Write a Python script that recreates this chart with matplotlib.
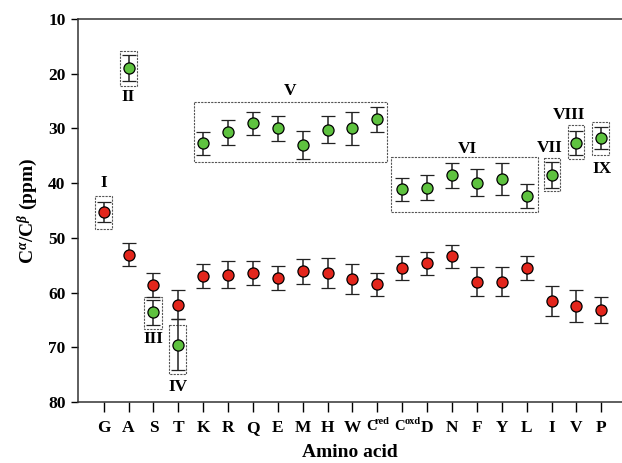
import matplotlib
matplotlib.use("Agg")
import matplotlib.pyplot as plt
from matplotlib.patches import Rectangle
from matplotlib.transforms import ScaledTranslation

plt.rcParams['font.family'] = ['Liberation Serif', 'DejaVu Serif']
plt.rcParams['font.weight'] = 'bold'
plt.rcParams['mathtext.fontset'] = 'custom'
plt.rcParams['mathtext.rm'] = 'Liberation Serif:bold'
plt.rcParams['mathtext.bf'] = 'Liberation Serif:bold'
plt.rcParams['mathtext.it'] = 'Liberation Serif:italic'

residues = ['G', 'A', 'S', 'T', 'K', 'R', 'Q', 'E', 'M', 'H', 'W',
            'C', 'C', 'D', 'N', 'F', 'Y', 'L', 'I', 'V', 'P']
# superscripts of the two cysteine labels
cys_pos = [11, 12]
cys_sup = ['red', 'oxd']

# C-alpha shifts (red) and errors
ca = [45.3, 53.1, 58.6, 62.2, 56.9, 56.7, 56.5, 57.3, 56.1, 56.4, 57.5,
      58.5, 55.5, 54.6, 53.4, 58.0, 58.0, 55.5, 61.5, 62.4, 63.2]
ca_err = [1.8, 2.1, 2.2, 2.6, 2.2, 2.5, 2.2, 2.2, 2.3, 2.7, 2.7,
          2.05, 2.25, 2.1, 2.05, 2.7, 2.65, 2.25, 2.75, 2.9, 2.45]

# C-beta shifts (green), G has none
cb_pos = [1, 2, 3, 4, 5, 6, 7, 8, 9, 10, 11, 12, 13, 14, 15, 16, 17, 18, 19, 20]
cb = [19.0, 63.6, 69.5, 32.7, 30.7, 29.1, 30.0, 33.0, 30.2, 30.0, 28.3,
      41.1, 40.8, 38.6, 39.9, 39.3, 42.3, 38.5, 32.7, 31.8]
cb_err = [2.4, 2.3, 4.7, 2.1, 2.3, 2.1, 2.3, 2.5, 2.4, 3.0, 2.3,
          2.1, 2.2, 2.2, 2.5, 2.9, 2.2, 2.3, 2.2, 2.0]

# group boxes: (x0, x1, y0, y1) and labels
boxes = [(-0.35, 0.33, 42.3, 48.3), (0.64, 1.34, 15.8, 22.2), (1.64, 2.33, 60.8, 66.7),
         (2.64, 3.32, 65.9, 74.9), (3.64, 11.37, 25.2, 36.2), (11.56, 17.46, 35.3, 45.3),
         (17.68, 18.32, 35.4, 41.5), (18.64, 19.3, 29.4, 35.5), (19.64, 20.32, 28.9, 34.9)]
group_labels = ['I', 'II', 'III', 'IV', 'V', 'VI', 'VII', 'VIII', 'IX']
label_xy = [(0, 39.9), (1, 24.2), (2, 68.5), (3, 77.2), (7.5, 23.1),
            (14.6, 33.8), (17.94, 33.5), (18.71, 27.5), (20.04, 37.5)]

fig = plt.figure(figsize=(6.22, 4.63), dpi=100)
ax = fig.add_axes([0.1254, 0.1317, 0.8746, 0.8273])

x = list(range(len(residues)))
ax.errorbar(x, ca, yerr=ca_err, fmt='o', color='#222222', ecolor='#222222',
            elinewidth=1.1, capsize=5, capthick=1.1, markersize=8,
            markerfacecolor='#e3261c', markeredgecolor='black', markeredgewidth=0.9, zorder=3)
ax.errorbar(cb_pos, cb, yerr=cb_err, fmt='o', color='#222222', ecolor='#222222',
            elinewidth=1.1, capsize=5, capthick=1.1, markersize=8,
            markerfacecolor='#5ec23f', markeredgecolor='black', markeredgewidth=0.9, zorder=3)

for (x0, x1, y0, y1) in boxes:
    ax.add_patch(Rectangle((x0, y0), x1 - x0, y1 - y0, fill=False,
                           edgecolor='#555555', linestyle=(0, (2, 1)), linewidth=0.8, zorder=2))
for lab, (lx, ly) in zip(group_labels, label_xy):
    ax.text(lx, ly, lab, ha='center', va='center', fontsize=12.5, fontweight='bold')

ax.set_xlim(-1.03, 20.83)
ax.set_ylim(80, 10)
ax.set_xticks(x)
ax.set_xticklabels(residues, fontsize=12.5, fontweight='bold')
ax.set_yticks(range(10, 81, 10))
ax.tick_params(axis='y', labelsize=12.5, length=5, width=1, direction='out', pad=4)
ax.tick_params(axis='x', length=7, width=1, direction='out', pad=6)
for lbl in ax.get_yticklabels():
    lbl.set_fontweight('bold')

# shrink and nudge the two C labels, then add their superscripts
c_shift = [-6, -3]  # pixels
sup_dx = [-2.5, 2.0]  # pixels, left edge of superscript relative to tick
xt = ax.get_xticklabels()
for p, sh, dx, sup in zip(cys_pos, c_shift, sup_dx, cys_sup):
    lbl = xt[p]
    lbl.set_fontsize(10.5)
    lbl.set_transform(lbl.get_transform() + ScaledTranslation(sh / 100, 0, fig.dpi_scale_trans))
    ax.annotate(sup, xy=(p, 0), xycoords=('data', 'axes fraction'),
                xytext=(dx * 0.72, -10.5), textcoords='offset points',
                ha='left', va='top', fontsize=7.5, fontweight='bold', annotation_clip=False)

ax.spines['right'].set_visible(False)
for s in ['left', 'top', 'bottom']:
    ax.spines[s].set_linewidth(1.1)
    ax.spines[s].set_color('#333333')

ax.set_xlabel('Amino acid', fontsize=14, fontweight='bold', labelpad=6)
ax.set_ylabel(r'C$^{\alpha}$/C$^{\beta}$ (ppm)', fontsize=14, fontweight='bold', labelpad=6)

fig.savefig('out.png', dpi=100)
